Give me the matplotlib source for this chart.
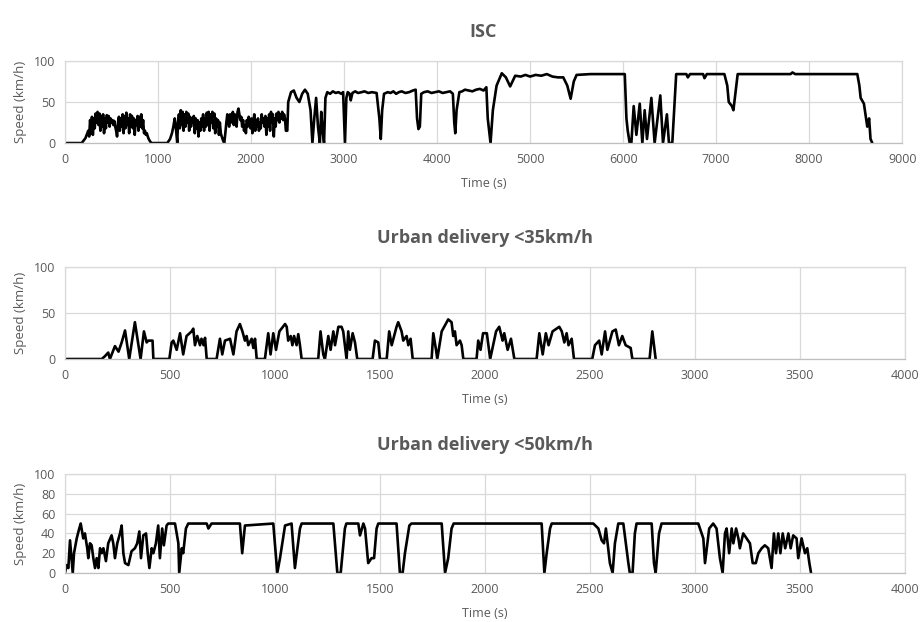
import matplotlib
matplotlib.use("Agg")
import matplotlib.pyplot as plt

plt.rcParams['font.family'] = ['Open Sans', 'DejaVu Sans']

# ISC cycle (time in s, speed in km/h)
isc_t = [0, 180, 200, 220, 240,
         250, 260, 270, 280, 290, 300, 310, 320, 330, 340, 350, 360, 370, 380, 390,
         400, 410, 420, 430, 440, 450, 460, 470, 480, 490, 500, 510, 520, 530, 540,
         550, 560, 570, 580, 590, 600, 610, 620, 630, 640, 650, 660, 670, 680, 690,
         700, 710, 720, 730, 740, 750, 760, 770, 780, 790, 800, 810, 820, 830, 840,
         850, 860, 870, 880, 890, 900, 915, 930,
         1100, 1130, 1150, 1165, 1180, 1195, 1207, 1215, 1225, 1235, 1245, 1255, 1265,
         1275, 1285, 1295, 1305, 1315, 1325, 1335, 1345, 1355, 1365, 1375, 1385, 1395,
         1405, 1415, 1425, 1435, 1445, 1455, 1465, 1475, 1485, 1495, 1505, 1515, 1525,
         1535, 1545, 1555, 1565, 1575, 1585, 1595, 1605, 1615, 1625, 1635, 1645, 1655,
         1665, 1675, 1685, 1700, 1712, 1722, 1735, 1745, 1755, 1765, 1775, 1785, 1795,
         1805, 1815, 1825, 1835, 1845, 1855, 1865, 1875, 1885, 1895, 1905, 1915, 1925,
         1935, 1945, 1955, 1965, 1975, 1985, 1995, 2005, 2015, 2025, 2035, 2045, 2055,
         2065, 2075, 2085, 2095, 2105, 2115, 2125, 2135, 2145, 2155, 2165, 2175, 2185,
         2195, 2205, 2215, 2225, 2235, 2245, 2255, 2265, 2275, 2285, 2295, 2305, 2315,
         2325, 2335, 2345, 2355, 2365, 2375, 2390,
         2400, 2430, 2460, 2490, 2520, 2550,
         2580, 2610, 2640, 2660, 2680, 2700, 2720, 2740, 2755, 2770, 2785, 2800, 2820,
         2850, 2880, 2910, 2940, 2970, 2990, 3000, 3010, 3025, 3040, 3060, 3072, 3090,
         3120, 3150, 3190, 3220, 3260, 3300, 3350, 3380, 3395, 3410, 3430, 3470, 3500,
         3530, 3560, 3590, 3620, 3660, 3700, 3740, 3770, 3785, 3800, 3815, 3830, 3860,
         3900, 3940, 3980, 4020, 4060, 4100, 4140, 4170, 4185, 4196, 4210, 4240, 4270,
         4300, 4340, 4380, 4420, 4460, 4500,
         4530, 4545, 4575, 4600, 4640, 4696, 4740, 4786, 4840, 4900, 4950, 5000, 5060,
         5120, 5180, 5240, 5300, 5357, 5400, 5436, 5470, 5500, 5650, 5800, 5950, 6018,
         6036, 6050, 6071, 6089, 6114, 6143, 6179, 6207, 6232, 6257, 6304, 6339, 6400,
         6429, 6471, 6493, 6529, 6571, 6589, 6680, 6696, 6720, 6860, 6875, 6900, 7089,
         7120, 7136, 7170, 7186, 7232, 7400, 7600, 7800, 7821, 7850, 8100, 8300, 8518,
         8540, 8554, 8589, 8625, 8645, 8660, 8679]
isc_v = [0, 0, 3, 6, 12,
         15, 8, 28, 12, 32, 10, 30, 18, 36, 25, 38, 22, 36, 15, 33,
         20, 35, 12, 30, 18, 34, 25, 33, 20, 30, 25, 28, 22, 27, 20,
         15, 8, 25, 32, 15, 30, 20, 35, 12, 33, 18, 37, 22, 30, 12,
         35, 20, 33, 18, 30, 10, 28, 22, 33, 15, 32, 20, 35, 18, 28,
         12, 15, 10, 12, 8, 5, 2, 0,
         0, 5, 12, 20, 30, 15, 0, 25, 35, 18, 40, 22, 38,
         15, 35, 20, 38, 25, 36, 15, 32, 20, 30, 25, 33, 12,
         30, 18, 28, 8, 25, 15, 30, 20, 35, 15, 30, 20, 37,
         22, 38, 15, 35, 25, 38, 18, 36, 12, 30, 20, 28, 10,
         25, 12, 8, 3, 0, 10, 25, 35, 28, 20, 35, 25, 30,
         38, 22, 35, 30, 20, 38, 42, 35, 28, 32, 20, 28, 15,
         22, 12, 28, 20, 32, 25, 18, 30, 12, 25, 35, 15, 28,
         20, 30, 15, 25, 18, 35, 25, 30, 20, 33, 10, 30, 20,
         35, 15, 38, 25, 35, 8, 30, 20, 36, 28, 38, 25, 35,
         30, 38, 28, 35, 30, 15, 15,
         50, 62, 64, 55, 50, 60,
         65, 60, 40, 0, 30, 55, 20, 0, 38, 15, 0, 55, 62,
         60, 63, 61, 62, 60, 62, 30, 0, 55, 62, 60, 52, 61,
         63, 61, 62, 63, 61, 62, 61, 30, 5, 40, 60, 62, 61,
         63, 60, 62, 63, 61, 62, 64, 65, 30, 17, 20, 60, 62,
         63, 61, 62, 63, 61, 62, 63, 60, 25, 12, 40, 62, 63,
         65, 64, 63, 65, 66, 64,
         68, 30, 0, 40, 70, 85, 80, 69, 82, 81, 83, 81, 83,
         82, 84, 81, 80, 80, 70, 54, 75, 83, 84, 84, 84, 84,
         30, 15, 0, 0, 45, 10, 48, 0, 40, 5, 55, 0, 58,
         0, 35, 0, 0, 84, 84, 84, 80, 84, 84, 79, 84, 84,
         70, 50, 45, 40, 84, 84, 84, 84, 86, 84, 84, 84, 84,
         70, 55, 48, 20, 30, 5, 0]

# Urban delivery <35km/h
u35_t = [0, 175, 190, 206, 214, 238, 255, 270, 286, 306, 333, 360, 376, 389, 397,
         417, 421, 497, 508, 516, 532, 548, 563, 579, 603, 611, 619, 630, 643, 650,
         660, 667, 675, 722, 738, 749, 762, 786, 802, 817, 833, 845, 857, 865, 873,
         889, 897, 905, 913, 952, 968, 979, 992, 1005, 1021, 1048, 1056, 1063, 1075,
         1083, 1091, 1103, 1111, 1119, 1127, 1206, 1217, 1230, 1238, 1254, 1265, 1278,
         1286, 1302, 1317, 1325, 1341, 1349, 1357, 1370, 1381, 1392, 1465, 1476, 1492,
         1500, 1532, 1544, 1556, 1579, 1587, 1603, 1611, 1627, 1635, 1646, 1656, 1746,
         1754, 1767, 1773, 1794, 1825, 1841, 1849, 1857, 1865, 1881, 1889, 1897, 1960,
         1968, 1979, 1991, 2009, 2025, 2053, 2068, 2084, 2092, 2108, 2124, 2140, 2246,
         2259, 2275, 2290, 2303, 2322, 2354, 2366, 2378, 2389, 2398, 2413, 2424, 2511,
         2524, 2544, 2556, 2572, 2583, 2607, 2623, 2638, 2654, 2670, 2694, 2702, 2784,
         2797, 2813]
u35_v = [0, 0, 3, 7, 0, 14, 8, 18, 31, 0, 40, 0, 30, 18, 20,
         20, 0, 0, 18, 20, 10, 28, 5, 25, 30, 33, 15, 25, 15, 22,
         15, 23, 0, 0, 22, 5, 20, 22, 5, 30, 38, 30, 20, 25, 15,
         22, 12, 22, 0, 0, 28, 5, 28, 10, 30, 38, 35, 20, 25,
         15, 25, 15, 27, 15, 0, 0, 30, 5, 0, 25, 10, 30,
         15, 35, 35, 30, 0, 30, 10, 28, 18, 0, 0, 20, 18,
         0, 0, 30, 15, 35, 40, 30, 20, 25, 15, 22, 0, 0,
         28, 10, 0, 30, 43, 40, 25, 30, 15, 20, 15, 0, 0,
         20, 10, 28, 28, 0, 30, 35, 20, 28, 10, 22, 0, 0,
         28, 5, 28, 15, 30, 35, 30, 18, 28, 15, 22, 0, 0,
         15, 20, 5, 30, 10, 30, 32, 15, 25, 15, 12, 0, 0,
         30, 0]

# Urban delivery <50km/h
u50_t = [0, 8, 16, 24, 37, 43, 56, 68, 75, 87, 95, 106, 111, 119, 127, 135, 143,
         151, 159, 167, 175, 183, 195, 206, 222, 230, 238, 249, 262, 270, 278, 286,
         302, 317, 333, 344, 354, 362, 373, 386, 394, 402, 413, 421, 433, 444, 452,
         463, 471, 484, 492, 524, 540, 544, 556, 563, 576, 587, 675, 683, 698, 833,
         844, 857, 992, 1005, 1011, 1024, 1048, 1079, 1095, 1119, 1127, 1278, 1297,
         1313, 1333, 1340, 1397, 1405, 1421, 1429, 1444, 1460, 1472, 1484, 1492, 1579,
         1595, 1608, 1619, 1640, 1650, 1794, 1810, 1825, 1841, 1851, 2000, 2150, 2270,
         2283, 2294, 2310, 2318, 2420, 2516, 2540, 2556, 2567, 2576, 2595, 2608, 2619,
         2635, 2659, 2683, 2690, 2703, 2714, 2722, 2794, 2805, 2813, 2829, 2841, 2930,
         3016, 3040, 3048, 3068, 3087, 3103, 3119, 3132, 3143, 3151, 3163, 3175, 3183,
         3196, 3207, 3214, 3230, 3246, 3262, 3275, 3290, 3302, 3318, 3333, 3349, 3365,
         3376, 3386, 3397, 3407, 3418, 3430, 3445, 3456, 3468, 3484, 3492, 3508, 3524,
         3535, 3545, 3553]
u50_v = [0, 8, 5, 33, 0, 20, 35, 45, 50, 35, 40, 25, 15, 30, 28, 15, 5,
         15, 5, 25, 20, 25, 12, 30, 38, 30, 15, 30, 40, 48, 20, 10,
         8, 22, 25, 30, 42, 15, 38, 40, 20, 5, 25, 20, 30, 48, 15,
         45, 28, 48, 50, 50, 30, 0, 25, 20, 45, 50, 50, 45, 50, 50,
         20, 48, 50, 15, 0, 15, 48, 50, 5, 45, 50, 50, 0,
         0, 45, 50, 50, 38, 50, 45, 10, 15, 15, 45, 50, 50,
         0, 0, 20, 48, 50, 50, 0, 15, 45, 50, 50, 50, 50,
         0, 20, 45, 50, 50, 50, 45, 33, 30, 45, 10, 0, 30,
         50, 50, 10, 0, 0, 40, 50, 50, 10, 0, 40, 50, 50,
         50, 35, 10, 45, 50, 45, 15, 0, 40, 45, 20, 45, 30,
         45, 35, 25, 40, 35, 30, 10, 10, 20, 25, 28, 25, 5,
         40, 20, 40, 20, 40, 25, 40, 25, 38, 35, 15, 35, 20,
         25, 10, 0]

panels = [
    ("ISC", isc_t, isc_v, 9000, 1000, [0, 50, 100]),
    ("Urban delivery <35km/h", u35_t, u35_v, 4000, 500, [0, 50, 100]),
    ("Urban delivery <50km/h", u50_t, u50_v, 4000, 500, [0, 20, 40, 60, 80, 100]),
]
# axes boxes in figure fractions
boxes = [
    [0.0704, 0.770, 0.907, 0.132],
    [0.0704, 0.4228, 0.910, 0.148],
    [0.0704, 0.0788, 0.910, 0.159],
]

grey = "#595959"
fig = plt.figure(figsize=(9.23, 6.22), dpi=100)

for (title, t, v, xmax, xstep, yticks), box in zip(panels, boxes):
    ax = fig.add_axes(box)
    ax.plot(t, v, color="black", lw=1.9, solid_joinstyle="round")
    ax.set_xlim(0, xmax)
    ax.set_ylim(0, 100)
    ax.set_xticks(range(0, xmax + 1, xstep))
    ax.set_yticks(yticks)
    ax.grid(True, color="#d9d9d9", lw=0.9)
    ax.set_axisbelow(True)
    for s in ax.spines.values():
        s.set_color("#d9d9d9")
        s.set_linewidth(0.9)
    ax.spines["bottom"].set_color("#bfbfbf")
    ax.tick_params(length=0, labelsize=9, labelcolor=grey)
    ax.tick_params(axis="x", pad=7)
    ax.tick_params(axis="y", pad=7)
    ax.set_xlabel("Time (s)", fontsize=9, color=grey, labelpad=8)
    ax.set_ylabel("Speed (km/h)", fontsize=9.5, color=grey, labelpad=5)
    ax.set_title(title, fontsize=13, fontweight="bold", color=grey, pad=17)

fig.savefig("out.png", dpi=100)
